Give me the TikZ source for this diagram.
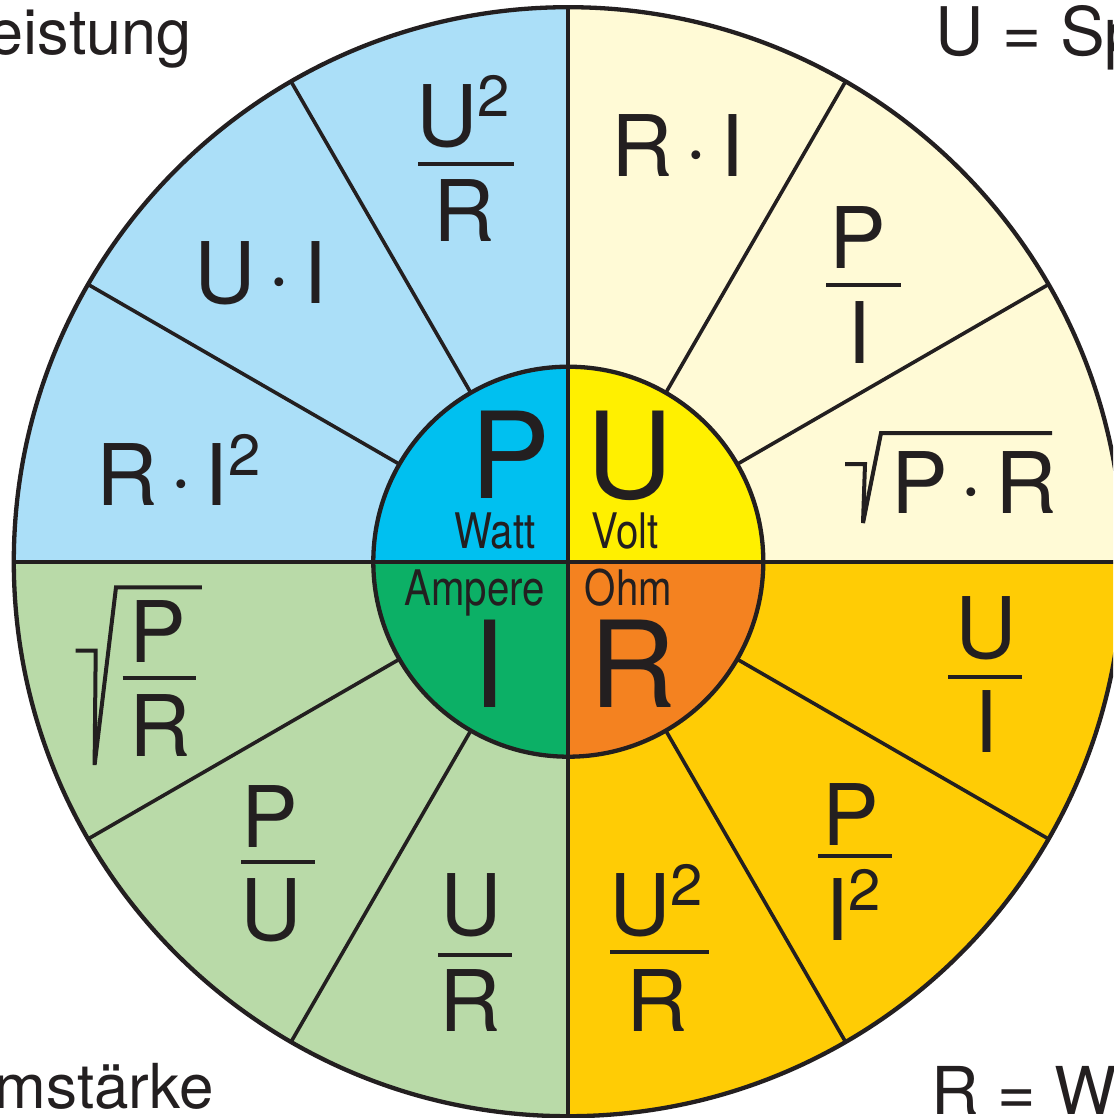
\documentclass[tikz,border=0pt]{standalone}
\usepackage{fontspec}
\setmainfont{TeX Gyre Heros}
\newfontfamily\condf[FakeStretch=0.82]{TeX Gyre Heros}
\definecolor{ink}{RGB}{35,31,32}
\definecolor{qP}{RGB}{171,223,248}
\definecolor{qU}{RGB}{255,250,214}
\definecolor{qR}{RGB}{255,204,5}
\definecolor{qI}{RGB}{185,218,168}
\definecolor{iP}{RGB}{0,192,240}
\definecolor{iU}{RGB}{255,240,0}
\definecolor{iR}{RGB}{244,130,32}
\definecolor{iI}{RGB}{12,176,102}
\newcommand\sqrd{\raisebox{30pt}{\fontsize{58}{60}\selectfont 2}}
\newcommand\mdt{\kern0.14em·\kern0.14em}
\begin{document}
\begin{tikzpicture}[x=1pt,y=-1pt,
  txt/.style={inner sep=0pt, outer sep=0pt, anchor=base, text=ink},
  big/.style={txt, font=\fontsize{120}{130}\selectfont},
  frm/.style={txt, font=\fontsize{85}{90}\selectfont},
  unit/.style={txt, font=\condf\fontsize{49}{55}\selectfont},
  corner/.style={txt, font=\fontsize{66}{70}\selectfont},
  bar/.style={draw=ink, line width=4pt},
  radical/.style={draw=ink, line width=4pt, line join=miter},
  spoke/.style={draw=ink, line width=3.6pt},
  rim/.style={draw=ink, line width=4.3pt}]
\useasboundingbox (0,0) rectangle (1113,1118);
\clip (0,0) rectangle (1113,1118);
\fill[white] (0,0) rectangle (1113,1118);
\coordinate (c) at (568.3,561.7);
% outer quadrants
\begin{scope}
  \clip (c) circle[radius=554.5];
  \fill[qP] (-20,-20) rectangle (c);
  \fill[qU] (c) rectangle (1140,-20);
  \fill[qR] (c) rectangle (1140,1140);
  \fill[qI] (c) rectangle (-20,1140);
\end{scope}
% inner quadrants
\begin{scope}
  \clip (c) circle[radius=195];
  \fill[iP] (-20,-20) rectangle (c);
  \fill[iU] (c) rectangle (1140,-20);
  \fill[iR] (c) rectangle (1140,1140);
  \fill[iI] (c) rectangle (-20,1140);
\end{scope}
% spokes
\foreach \a in {30,60,120,150,210,240,300,330}
  \draw[spoke] ([shift={(\a:195)}]c) -- ([shift={(\a:554.5)}]c);
\draw[rim] ([shift={(180:554.5)}]c) -- ([shift={(0:554.5)}]c);
\draw[rim] ([shift={(90:554.5)}]c) -- ([shift={(270:554.5)}]c);
\draw[rim] (c) circle[radius=195];
\draw[rim] (c) circle[radius=554.5];

% centre letters
\node[big] (bP) at (511,498) {P};
\node[big] (bU) at (629.5,498) {U};
\node[big] (bI) at (489,707) {I};
\node[big] (bR) at (633,707) {R};
\node[unit] (uW) at (495,548) {Watt};
\node[unit] (uV) at (625,548) {Volt};
\node[unit] (uA) at (474.5,605) {Ampere};
\node[unit] (uO) at (628.5,605) {Ohm};

% P quadrant
\node[frm] (p1n) at (463,147) {U\sqrd};
\draw[bar] (418,164) -- (514,164);
\node[frm] (p1d) at (464.5,241) {R};
\node[frm] (p2) at (260.5,303) {U\mdt I};
\node[frm] (p3) at (178.4,505) {R\mdt I\sqrd};

% U quadrant
\node[frm] (u1) at (677.8,177) {R\mdt I};
\node[frm] (u2n) at (857.7,268) {P};
\draw[bar] (826,285) -- (901,285);
\node[frm] (u2d) at (859,363) {I};
\node[frm] (u3) at (974,513) {P\mdt R};
\draw[radical] (845,464) -- (865,464) -- (863,523) -- (881,433) -- (1052,433);

% I quadrant
\draw[radical] (75.7,650.6) -- (95.7,650.6) -- (94.6,765) -- (116,587.4) -- (201.8,587.4);
\node[frm] (i1n) at (158.2,662) {P};
\draw[bar] (122.5,678) -- (196.4,678);
\node[frm] (i1d) at (160.3,756) {R};
\node[frm] (i2n) at (270,847) {P};
\draw[bar] (241.4,862) -- (315,862);
\node[frm] (i2d) at (271,940.5) {U};
\node[frm] (i3n) at (471,935.5) {U};
\draw[bar] (438,955) -- (512,955);
\node[frm] (i3d) at (470.5,1031) {R};

% R quadrant
\node[frm] (r1n) at (986,658.5) {U};
\draw[bar] (948,677) -- (1022,677);
\node[frm] (r1d) at (986,752) {I};
\node[frm] (r2n) at (851,845) {P};
\draw[bar] (818,856) -- (892,856);
\node[frm] (r2d) at (853,940) {I\sqrd};
\node[frm] (r3n) at (656,935.5) {U\sqrd};
\draw[bar] (610,952) -- (709,952);
\node[frm] (r3d) at (657,1031) {R};

% corner captions
\node[corner, anchor=base east, font=\fontsize{63}{66}\selectfont] (cP) at (191.6,55) {eistung};
\node[corner, anchor=base west, font=\fontsize{67}{70}\selectfont] (cU) at (935.4,55.4) {U = Sp};
\node[corner, anchor=base east, font=\fontsize{62}{66}\selectfont] (cI) at (214,1108.3) {mstärke};
\node[corner, anchor=base west] (cR) at (931.5,1114) {R = W};
\end{tikzpicture}
\end{document}
